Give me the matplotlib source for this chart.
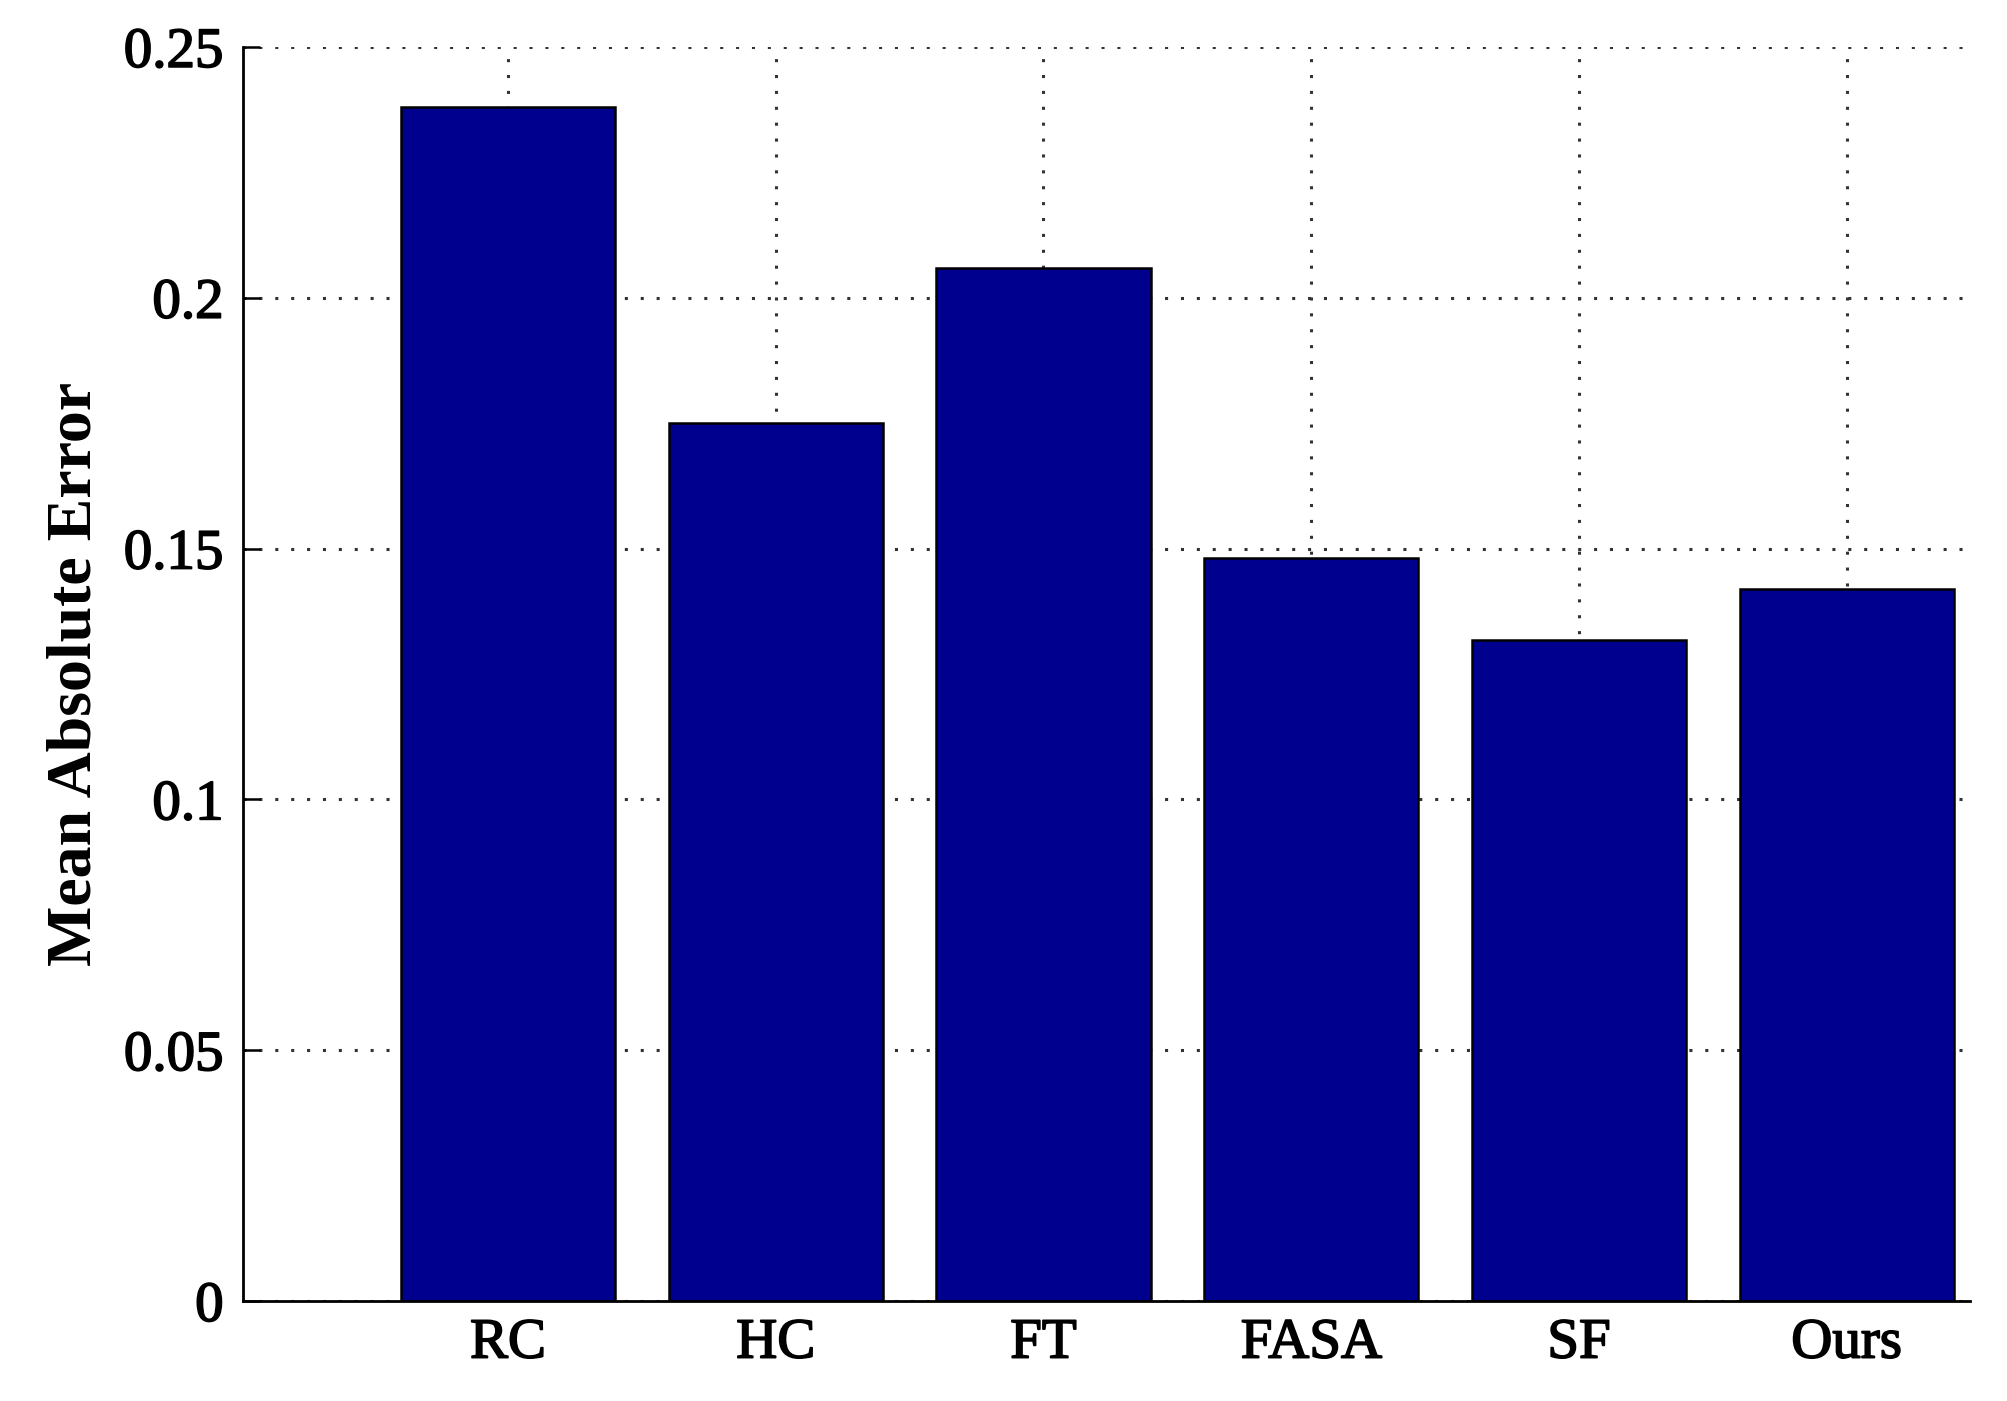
import matplotlib.pyplot as plt
import matplotlib.patheffects as pe

# Data
methods = ['RC', 'HC', 'FT', 'FASA', 'SF', 'Ours']
mae = [0.2381, 0.1751, 0.2059, 0.1481, 0.1317, 0.1419]
yticks = [0, 0.05, 0.1, 0.15, 0.2, 0.25]
ytick_labels = ['0', '0.05', '0.1', '0.15', '0.2', '0.25']

plt.rcParams['font.family'] = ['Liberation Serif', 'DejaVu Serif']

fig = plt.figure(figsize=(20.08, 14.01), dpi=100)
ax = fig.add_axes([0.121, 0.0714, 0.860, 0.8951])

x = list(range(1, len(methods) + 1))
ax.bar(x, mae, width=0.8, color='#00008f', edgecolor='black', linewidth=1.8, zorder=3)

ax.set_xlim(0.01, 6.46)
ax.set_ylim(0, 0.25)
ax.set_xticks(x)
ax.set_xticklabels(methods, fontsize=41)
ax.set_yticks(yticks)
ax.set_yticklabels(ytick_labels, fontsize=41)
ax.tick_params(axis='y', direction='in', length=12, width=1.8, pad=14)
ax.tick_params(axis='x', direction='in', length=12, width=1.8, pad=12)

# slightly heavier strokes like the original print
thick = [pe.withStroke(linewidth=1.2, foreground='black')]
for lbl in ax.get_xticklabels() + ax.get_yticklabels():
    lbl.set_path_effects(thick)

ax.set_ylabel('Mean Absolute Error', fontsize=46, fontweight='bold', labelpad=14)

# Grid (dotted, behind bars)
ax.grid(True, color='#333333', linestyle=(0, (1, 4.2)), linewidth=2.2, zorder=0)
ax.set_axisbelow(True)

for side in ['top', 'right']:
    ax.spines[side].set_visible(False)
for side in ['left', 'bottom']:
    ax.spines[side].set_linewidth(2.0)
    ax.spines[side].set_zorder(4)

fig.savefig('out.png', dpi=100)
